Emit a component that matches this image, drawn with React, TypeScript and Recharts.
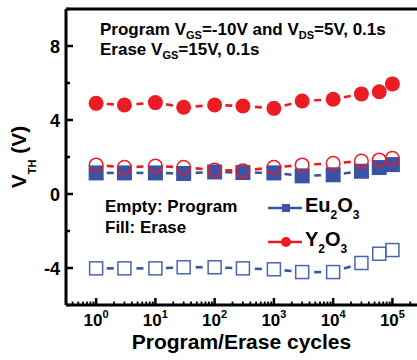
import React from "react";
import { LineChart, Line, XAxis, YAxis, ReferenceLine } from "recharts";

// P/E cycles and threshold voltages
const cycles = [1, 3, 10, 30, 100, 300, 1000, 3000, 10000, 30000, 60000, 100000];
const euProgram = [-4.02, -4.02, -4.02, -3.96, -3.96, -4.02, -4.07, -4.22, -4.22, -3.73, -3.23, -3.03];
const euErase = [1.14, 1.14, 1.14, 1.11, 1.19, 1.16, 1.14, 0.98, 1.04, 1.23, 1.43, 1.59];
const y2o3Program = [1.57, 1.44, 1.51, 1.44, 1.3, 1.26, 1.44, 1.57, 1.66, 1.78, 1.84, 1.93];
const y2o3Erase = [4.9, 4.81, 4.94, 4.69, 4.81, 4.76, 4.63, 5.03, 5.12, 5.41, 5.53, 5.95];

const majorX = [1, 10, 100, 1000, 10000, 100000];
const xExponents = ["0", "1", "2", "3", "4", "5"];
const minorSteps = [2, 3, 4, 5, 6, 7, 8, 9];
const yTicks = [-6, -4, -2, 0, 2, 4, 6, 8, 10];
const yLabels = [-4, 0, 4, 8];

const RED = "#ec1c24";
const BLUE = "#3a53a4";
const FONT = "'Liberation Sans', Arial, sans-serif";

const data = cycles.map((c, i) => ({
  c,
  euP: euProgram[i],
  euE: euErase[i],
  yP: y2o3Program[i],
  yE: y2o3Erase[i],
}));

const xDomain = [0.31, 260000];
const xTicks = [
  ...majorX,
  ...[0.1, ...majorX].flatMap((d) => minorSteps.map((m) => +(m * d).toPrecision(3))),
].filter((v) => v >= xDomain[0] && v <= xDomain[1]);

const XTick = (props: any) => {
  const { x, y, payload } = props;
  const i = majorX.indexOf(payload.value);
  const major = i >= 0;
  return (
    <g>
      <line x1={x} x2={x} y1={y} y2={y - (major ? 7 : 3.5)} stroke="#000" strokeWidth={major ? 2.5 : 1.8} />
      {major && (
        <text x={x} y={y + 21} textAnchor="middle" fontFamily={FONT} fontWeight="bold" fontSize={17} fill="#000">
          <tspan>10</tspan>
          <tspan dy={-8} fontSize={11}>{xExponents[i]}</tspan>
        </text>
      )}
    </g>
  );
};

const YTick = (props: any) => {
  const { x, y, payload } = props;
  const major = yLabels.includes(payload.value);
  return (
    <g>
      <line x1={x} x2={x + (major ? 7 : 4)} y1={y} y2={y} stroke="#000" strokeWidth={2.5} />
      {major && (
        <text x={x - 6} y={y + 6.5} textAnchor="end" fontFamily={FONT} fontWeight="bold" fontSize={18} fill="#000">
          {payload.value}
        </text>
      )}
    </g>
  );
};

// marker plus a short dash half way to the next point
function makeDot(shape: "square" | "circle", filled: boolean, color: string, size: number, lineColor: string) {
  return (p: any) => {
    const { cx, cy, index, points } = p;
    if (cx == null || cy == null) return <g key={`d-${index}`} />;
    let dash = null;
    const next = points && points[index + 1];
    if (next) {
      const dx = next.x - cx;
      const dy = next.y - cy;
      const len = Math.hypot(dx, dy);
      if (len > 22) {
        const mx = (cx + next.x) / 2;
        const my = (cy + next.y) / 2;
        const h = 3.5 / len;
        dash = (
          <line x1={mx - dx * h} y1={my - dy * h} x2={mx + dx * h} y2={my + dy * h} stroke={lineColor} strokeWidth={2.6} />
        );
      }
    }
    const s = size / 2;
    const mark =
      shape === "square" ? (
        <rect
          x={cx - s}
          y={cy - s}
          width={size}
          height={size}
          fill={filled ? color : "none"}
          stroke={filled ? "none" : color}
          strokeWidth={1.5}
        />
      ) : (
        <circle
          cx={cx}
          cy={cy}
          r={filled ? s : s - 0.7}
          fill={filled ? color : "none"}
          stroke={filled ? "none" : color}
          strokeWidth={1.5}
        />
      );
    return (
      <g key={`d-${index}`}>
        {dash}
        {mark}
      </g>
    );
  };
}

export default function App() {
  return (
    <div style={{ position: "absolute", left: 0, top: 0, background: "#fff" }}>
      <LineChart width={417} height={360} data={data} margin={{ top: 9, right: 0, bottom: 0, left: 0 }}>
        <XAxis
          dataKey="c"
          type="number"
          scale="log"
          domain={xDomain}
          allowDataOverflow
          ticks={xTicks}
          interval={0}
          height={55}
          tickSize={0}
          tickMargin={0}
          tick={<XTick />}
          axisLine={{ stroke: "#000", strokeWidth: 3 }}
          label={{
            value: "Program/Erase cycles",
            position: "insideBottom",
            offset: 11,
            fontFamily: FONT,
            fontWeight: "bold",
            fontSize: 21,
            fill: "#000",
          }}
        />
        <YAxis
          type="number"
          domain={[-6, 10]}
          ticks={yTicks}
          interval={0}
          width={66}
          tickSize={0}
          tickMargin={0}
          tick={<YTick />}
          axisLine={{ stroke: "#000", strokeWidth: 3 }}
        />
        <ReferenceLine y={10} stroke="#000" strokeWidth={3} />
        <Line
          dataKey="euP"
          stroke="none"
          isAnimationActive={false}
          activeDot={false}
          dot={makeDot("square", false, "#4a63b3", 13, BLUE)}
        />
        <Line
          dataKey="euE"
          stroke="none"
          isAnimationActive={false}
          activeDot={false}
          dot={makeDot("square", true, BLUE, 15, BLUE)}
        />
        <Line
          dataKey="yP"
          stroke="none"
          isAnimationActive={false}
          activeDot={false}
          dot={makeDot("circle", false, RED, 15, RED)}
        />
        <Line
          dataKey="yE"
          stroke="none"
          isAnimationActive={false}
          activeDot={false}
          dot={makeDot("circle", true, RED, 15, RED)}
        />

        <text transform="rotate(-90)" x={-157} y={26} textAnchor="middle" fontFamily={FONT} fontWeight="bold" fontSize={21} fill="#000">
          <tspan>V</tspan>
          <tspan fontSize={11} dy={10}>TH</tspan>
          <tspan dy={-10}> (V)</tspan>
        </text>

        <g fontFamily={FONT} fontWeight="bold" fill="#000">
          <text x={100} y={35} fontSize={17}>
            <tspan>Program V</tspan>
            <tspan fontSize={11} dy={4}>GS</tspan>
            <tspan dy={-4}>=-10V and V</tspan>
            <tspan fontSize={11} dy={4}>DS</tspan>
            <tspan dy={-4}>=5V, 0.1s</tspan>
          </text>
          <text x={100} y={55} fontSize={17}>
            <tspan>Erase V</tspan>
            <tspan fontSize={11} dy={4}>GS</tspan>
            <tspan dy={-4}>=15V, 0.1s</tspan>
          </text>
          <text x={105} y={212} fontSize={17}>Empty: Program</text>
          <text x={105} y={233} fontSize={17}>Fill: Erase</text>

          <line x1={268} x2={302} y1={208} y2={208} stroke={BLUE} strokeWidth={2.5} />
          <rect x={282} y={204} width={8} height={8} fill={BLUE} />
          <text x={305} y={212} fontSize={20}>
            <tspan>Eu</tspan>
            <tspan fontSize={12} dy={7}>2</tspan>
            <tspan dy={-7}>O</tspan>
            <tspan fontSize={12} dy={7}>3</tspan>
          </text>
          <line x1={268} x2={302} y1={242} y2={242} stroke={RED} strokeWidth={2.5} />
          <circle cx={286} cy={242} r={5} fill={RED} />
          <text x={305} y={246} fontSize={20}>
            <tspan>Y</tspan>
            <tspan fontSize={12} dy={7}>2</tspan>
            <tspan dy={-7}>O</tspan>
            <tspan fontSize={12} dy={7}>3</tspan>
          </text>
        </g>
      </LineChart>
    </div>
  );
}
